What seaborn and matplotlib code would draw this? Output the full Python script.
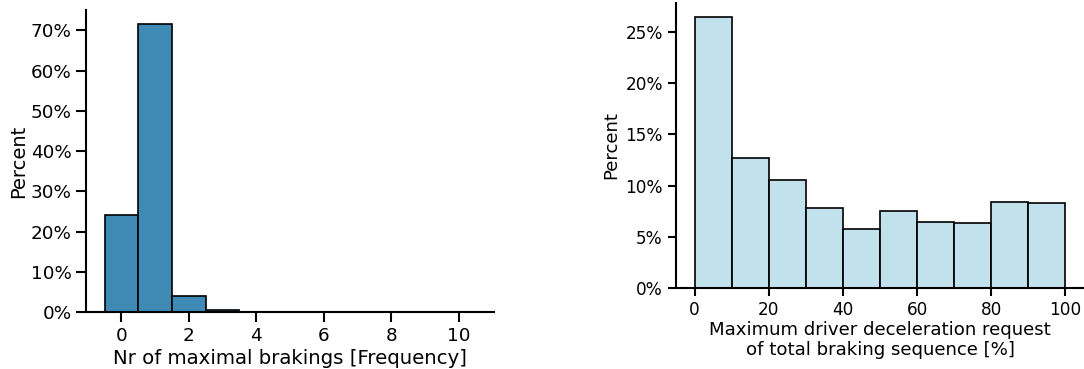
import numpy as np
import pandas as pd
import matplotlib
matplotlib.use("Agg")
import matplotlib.pyplot as plt
from matplotlib.ticker import PercentFormatter, MultipleLocator
import seaborn as sns

# Number of maximal brakings per sequence (discrete) and share of sequences [%]
brakings_count = [0, 1, 2, 3, 4, 5, 6, 7, 8, 9, 10]
brakings_percent = [24.2, 71.5, 4.0, 0.45, 0.05, 0.02, 0.01, 0.01, 0.0, 0.0, 0.01]

# Maximum driver deceleration request, 10 % bins, share of sequences [%]
decel_bin_edges = [0, 10, 20, 30, 40, 50, 60, 70, 80, 90, 100]
decel_percent = [26.5, 12.7, 10.55, 7.8, 5.8, 7.5, 6.45, 6.35, 8.4, 8.3]

sns.set_style("ticks")
plt.rcParams["font.family"] = ["DejaVu Sans"]
for key in ("text.color", "axes.labelcolor", "xtick.color", "ytick.color", "axes.edgecolor"):
    plt.rcParams[key] = "black"

fig = plt.figure(figsize=(10.84, 3.69), dpi=100)
ax1 = fig.add_axes([86 / 1084, 57 / 369, 408 / 1084, 302 / 369])
ax2 = fig.add_axes([676 / 1084, 81 / 369, 408 / 1084, 285 / 369])

left_df = pd.DataFrame({"n": brakings_count, "w": brakings_percent})
sns.histplot(data=left_df, x="n", weights="w", discrete=True, stat="count",
             color="#3f8ab4", alpha=1.0, edgecolor="black", linewidth=1.2, ax=ax1)
ax1.yaxis.set_major_formatter(PercentFormatter(xmax=100, decimals=0))
ax1.yaxis.set_major_locator(MultipleLocator(10))
ax1.xaxis.set_major_locator(MultipleLocator(2))
ax1.set_xlabel("Nr of maximal brakings [Frequency]", fontsize=14.2, labelpad=3)
ax1.set_ylabel("Percent", fontsize=14, labelpad=1.5)
ax1.tick_params(labelsize=13.2, length=7, width=1.5)

centers = [(a + b) / 2 for a, b in zip(decel_bin_edges[:-1], decel_bin_edges[1:])]
right_df = pd.DataFrame({"x": centers, "w": decel_percent})
sns.histplot(data=right_df, x="x", weights="w", bins=decel_bin_edges, stat="count",
             color="lightblue", alpha=0.75, edgecolor="black", linewidth=1.2, ax=ax2)
ax2.yaxis.set_major_formatter(PercentFormatter(xmax=100, decimals=0))
ax2.yaxis.set_major_locator(MultipleLocator(5))
ax2.xaxis.set_major_locator(MultipleLocator(20))
ax2.set_xlabel("Maximum driver deceleration request\nof total braking sequence [%]",
               fontsize=13.1, labelpad=1)
ax2.set_ylabel("Percent", fontsize=13)
ax2.tick_params(labelsize=12.2, length=6, width=1.5)

for ax in (ax1, ax2):
    sns.despine(ax=ax)
    for s in ("left", "bottom"):
        ax.spines[s].set_linewidth(1.5)

fig.savefig("out.png", dpi=100)
